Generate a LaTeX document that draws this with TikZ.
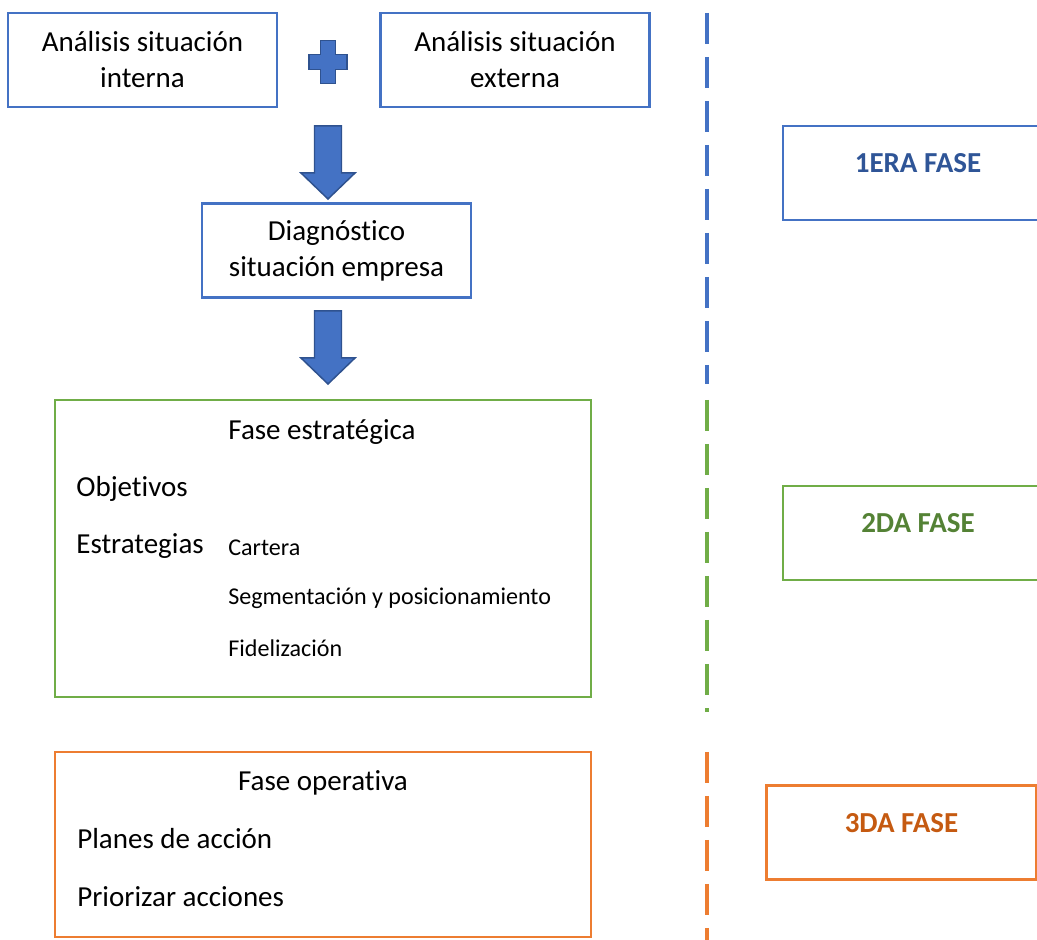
\documentclass[tikz,border=0pt]{standalone}
\usepackage{fontspec}
\setmainfont{Carlito}[Ligatures={NoCommon}]
\usepackage{xcolor}
\usepackage{tikz}
\usetikzlibrary{calc, positioning}
\definecolor{fblue}{HTML}{4472C4}
\definecolor{fbluedark}{HTML}{2F528F}
\definecolor{fbluetext}{HTML}{2F5597}
\definecolor{fgreen}{HTML}{70AD47}
\definecolor{fgreentext}{HTML}{548235}
\definecolor{forange}{HTML}{ED7D31}
\definecolor{forangetext}{HTML}{C55A11}
\newcommand{\bigtext}{\fontsize{16.5}{20.5}\selectfont}
\newcommand{\smalltext}{\fontsize{13.7}{16.5}\selectfont}
\tikzstyle{box} = [rectangle, draw=fblue, line width=1.4pt, align=center, font=\bigtext, minimum width=53.8mm, minimum height=18.8mm]
\tikzstyle{bigbox} = [rectangle, line width=1.4pt, minimum width=107.2mm]
\tikzstyle{phase} = [rectangle, line width=1.4pt, font=\bigtext\bfseries, text depth=4mm, minimum width=54mm, minimum height=18.8mm]
\tikzstyle{item} = [anchor=west, inner sep=0pt, font=\bigtext]
\tikzstyle{subitem} = [anchor=west, inner sep=0pt, font=\smalltext]
\tikzstyle{divider} = [line width=0.9mm, dash pattern=on 6.2mm off 2.6mm]
\tikzstyle{bigarrow} = [fill=fblue, draw=fbluedark, line width=0.85pt, line join=miter]

\begin{document}
\begin{tikzpicture}[x=0.2mm, y=-0.2mm]
    \clip (0,0) rectangle (1037,940);
    % analisis
    \node[box] (interna) at (142.5,60) {Análisis situación\\interna};
    \node[box] (externa) at (515,60) {Análisis situación\\externa};
    \coordinate (plus) at (328,62);
    \draw[bigarrow] ($(plus)+(-7.5,-21.5)$) -- ++(15,0) -- ++(0,14) -- ++(11.5,0) -- ++(0,15) -- ++(-11.5,0) -- ++(0,14) -- ++(-15,0) -- ++(0,-14) -- ++(-11.5,0) -- ++(0,-15) -- ++(11.5,0) -- cycle;
    % diagnostico
    \node[box] (diag) at (336.5,250.5) {Diagnóstico\\situación empresa};
    \coordinate (arr1 top) at (328,126);
    \coordinate (arr1 tip) at (328,199);
    \draw[bigarrow] ($(arr1 top)+(-13.5,0)$) -- ($(arr1 tip)+(-13.5,-26)$) -- ($(arr1 tip)+(-27,-26)$) -- (arr1 tip) -- ($(arr1 tip)+(27,-26)$) -- ($(arr1 tip)+(13.5,-26)$) -- ($(arr1 top)+(13.5,0)$) -- cycle;
    \coordinate (arr2 top) at (328,311);
    \coordinate (arr2 tip) at (328,384);
    \draw[bigarrow] ($(arr2 top)+(-13.5,0)$) -- ($(arr2 tip)+(-13.5,-26)$) -- ($(arr2 tip)+(-27,-26)$) -- (arr2 tip) -- ($(arr2 tip)+(27,-26)$) -- ($(arr2 tip)+(13.5,-26)$) -- ($(arr2 top)+(13.5,0)$) -- cycle;
    % fase estrategica
    \node[bigbox, draw=fgreen, minimum height=59.4mm] (estrategica) at (323,548.5) {};
    \node[font=\bigtext, inner sep=0pt] (estr title) at (322,432) {Fase estratégica};
    \node[item] (objetivos) at (76,489) {Objetivos};
    \node[item] (estrategias) at (76,546) {Estrategias};
    \node[subitem] (cartera) at (228,548) {Cartera};
    \node[subitem] (segmentacion) at (228,598) {Segmentación y posicionamiento};
    \node[subitem] (fidelizacion) at (228,648) {Fidelización};
    % fase operativa
    \node[bigbox, draw=forange, minimum height=37mm] (operativa) at (323,844.5) {};
    \node[font=\bigtext, inner sep=0pt] (oper title) at (323,783) {Fase operativa};
    \node[item] (planes) at (77,839) {Planes de acción};
    \node[item] (priorizar) at (77,897) {Priorizar acciones};
    % separador y fases
    \coordinate (div1 a) at (707,13);
    \coordinate (div1 b) at (707,384);
    \coordinate (div2 a) at (707,400);
    \coordinate (div2 b) at (707,712);
    \coordinate (div3 a) at (707,752);
    \coordinate (div3 b) at (707,940);
    \draw[divider, fblue] (div1 a) -- (div1 b);
    \draw[divider, fgreen] (div2 a) -- (div2 b);
    \draw[divider, forange] (div3 a) -- (div3 b);
    \node[phase, draw=fblue, text=fbluetext] (fase1) at (918,173) {1ERA FASE};
    \node[phase, draw=fgreen, text=fgreentext] (fase2) at (918,533) {2DA FASE};
    \node[phase, draw=forange, text=forangetext] (fase3) at (901.5,832.5) {3DA FASE};
\end{tikzpicture}
\end{document}
